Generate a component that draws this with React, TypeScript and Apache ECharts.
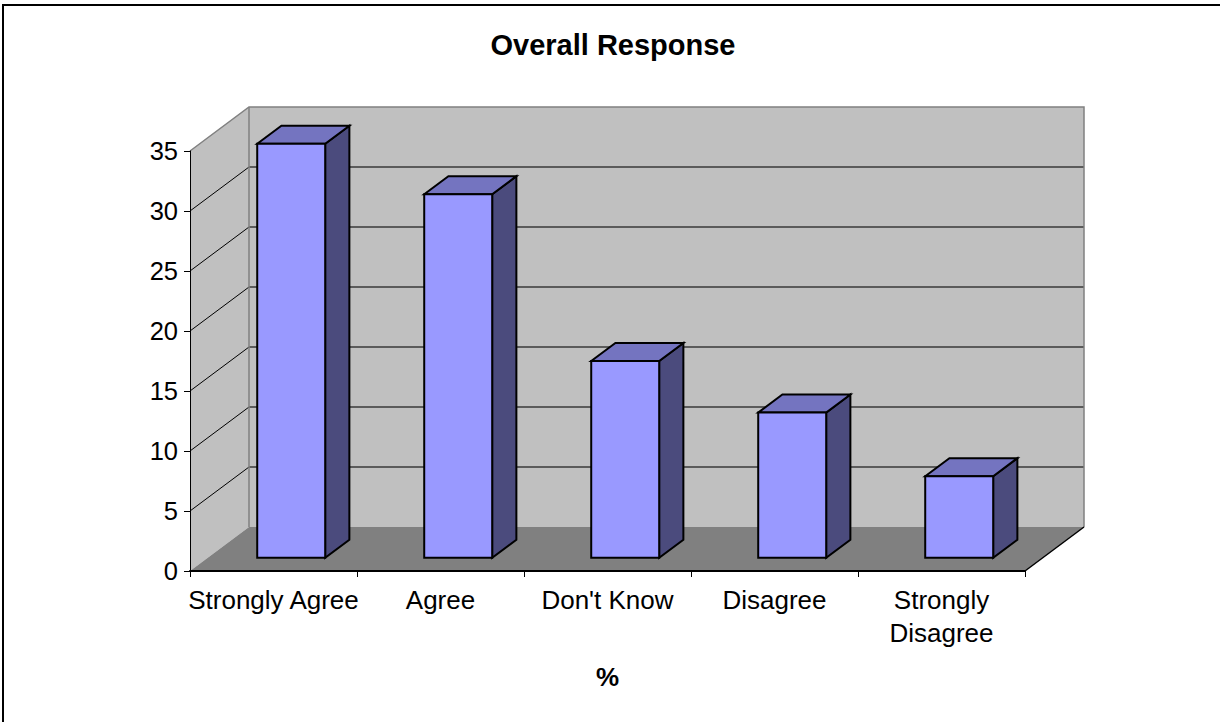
import { useEffect, useRef } from 'react';
import * as echarts from 'echarts';

// Survey answers and their share of responses (%)
const categories = ['Strongly Agree', 'Agree', "Don't Know", 'Disagree', 'Strongly\nDisagree'];
const responses = [34.5, 30.3, 16.4, 12.1, 6.8];
const valueTicks = [0, 5, 10, 15, 20, 25, 30, 35];
const chartTitle = 'Overall Response';
const axisTitle = '%';

const Y_MIN = 0;
const Y_MAX = 35;
const Y_STEP = 5;

// Pseudo-3D projection: offset (px) from the front plane to the back wall
const DEPTH_X = 59;
const DEPTH_Y = 44;
// Bar placement inside the depth (fractions of full depth) and band width
const BAR_FRONT = 0.3;
const BAR_BACK = 0.71;
const BAR_WIDTH = 0.407;

const FONT = '"Liberation Sans", Arial, Helvetica, sans-serif';

const WALL = '#c0c0c0';
const FLOOR = '#808080';
const EDGE = '#808080';
const BAR_FACE = '#9999ff';
const BAR_TOP = '#7474c0';
const BAR_SIDE = '#4b4b7d';

function renderWalls(_params: any, api: any) {
  const n = categories.length;
  const bw = api.size([1, 0])[0];
  const [c0, yBase] = api.coord([0, Y_MIN]);
  const xL = c0 - bw / 2;
  const xR = api.coord([n - 1, Y_MIN])[0] + bw / 2;
  const yTop = api.coord([0, Y_MAX])[1];
  const dx = DEPTH_X;
  const dy = DEPTH_Y;

  const children: any[] = [
    {
      type: 'polygon',
      shape: { points: [[xL, yBase], [xL + dx, yBase - dy], [xL + dx, yTop - dy], [xL, yTop]] },
      style: { fill: WALL },
    },
    {
      type: 'rect',
      shape: { x: xL + dx, y: yTop - dy, width: xR - xL, height: yBase - yTop },
      style: { fill: WALL },
    },
    {
      type: 'polygon',
      shape: { points: [[xL, yBase], [xR, yBase], [xR + dx, yBase - dy], [xL + dx, yBase - dy]] },
      style: { fill: FLOOR },
    },
  ];

  valueTicks.forEach((v) => {
    if (v <= Y_MIN || v >= Y_MAX) return;
    const y = api.coord([0, v])[1];
    children.push({
      type: 'line',
      shape: { x1: xL + dx, y1: y - dy, x2: xR + dx, y2: y - dy },
      style: { stroke: '#3a3a3a', lineWidth: 1.5 },
    });
    children.push({
      type: 'line',
      shape: { x1: xL, y1: y, x2: xL + dx, y2: y - dy },
      style: { stroke: '#000', lineWidth: 1 },
    });
  });

  children.push({
    type: 'polyline',
    shape: { points: [[xL, yTop], [xL + dx, yTop - dy], [xR + dx, yTop - dy], [xR + dx, yBase - dy]] },
    style: { stroke: EDGE, lineWidth: 1.5, fill: null },
  });
  children.push({
    type: 'line',
    shape: { x1: xL + dx, y1: yTop - dy, x2: xL + dx, y2: yBase - dy },
    style: { stroke: EDGE, lineWidth: 1.5 },
  });
  children.push({
    type: 'line',
    shape: { x1: xR, y1: yBase, x2: xR + dx, y2: yBase - dy },
    style: { stroke: '#000', lineWidth: 1.5 },
  });

  return { type: 'group', children };
}

function renderBar(_params: any, api: any) {
  const i = api.value(0);
  const v = api.value(1);
  const [cx, y0] = api.coord([i, Y_MIN]);
  const yv = api.coord([i, v])[1];
  const bw = api.size([1, 0])[0];
  const w = bw * BAR_WIDTH;
  const fx = cx + BAR_FRONT * DEPTH_X - w / 2;
  const fBottom = y0 - BAR_FRONT * DEPTH_Y;
  const fTop = yv - BAR_FRONT * DEPTH_Y;
  const ddx = (BAR_BACK - BAR_FRONT) * DEPTH_X;
  const ddy = (BAR_BACK - BAR_FRONT) * DEPTH_Y;
  const line = { stroke: '#000', lineWidth: 2, lineJoin: 'miter' as const };

  return {
    type: 'group',
    children: [
      {
        type: 'polygon',
        shape: {
          points: [
            [fx + w, fTop],
            [fx + w + ddx, fTop - ddy],
            [fx + w + ddx, fBottom - ddy],
            [fx + w, fBottom],
          ],
        },
        style: { fill: BAR_SIDE, ...line },
      },
      {
        type: 'polygon',
        shape: {
          points: [
            [fx, fTop],
            [fx + ddx, fTop - ddy],
            [fx + w + ddx, fTop - ddy],
            [fx + w, fTop],
          ],
        },
        style: { fill: BAR_TOP, ...line },
      },
      {
        type: 'rect',
        shape: { x: fx, y: fTop, width: w, height: fBottom - fTop },
        style: { fill: BAR_FACE, ...line },
      },
    ],
  };
}

export default function App() {
  const ref = useRef<HTMLDivElement>(null);

  useEffect(() => {
    if (!ref.current) return;
    const chart = echarts.init(ref.current, undefined, { renderer: 'svg' });
    chart.setOption({
      animation: false,
      backgroundColor: '#ffffff',
      title: {
        text: chartTitle,
        left: 613,
        top: 30,
        padding: 0,
        textAlign: 'center',
        textStyle: { fontFamily: FONT, fontSize: 29, fontWeight: 'bold', color: '#000', lineHeight: 29 },
      },
      graphic: [
        {
          type: 'rect',
          silent: true,
          shape: { x: 3, y: 5, width: 1400, height: 900 },
          style: { fill: 'none', stroke: '#000', lineWidth: 2 },
          z: 10,
        },
      ],
      grid: { left: 190, right: 195, top: 151, bottom: 151 },
      xAxis: {
        type: 'category',
        data: categories,
        z: 5,
        boundaryGap: true,
        name: axisTitle,
        nameLocation: 'middle',
        nameGap: 93,
        nameTextStyle: { fontFamily: FONT, fontSize: 26, fontWeight: 'bold', color: '#000', lineHeight: 26 },
        axisLine: { show: true, lineStyle: { color: '#000', width: 2 } },
        axisTick: { show: true, length: 6, lineStyle: { color: '#000', width: 1 } },
        axisLabel: {
          interval: 0,
          margin: 12,
          fontFamily: FONT,
          fontSize: 26,
          lineHeight: 33,
          color: '#000',
        },
        splitLine: { show: false },
      },
      yAxis: {
        type: 'value',
        min: Y_MIN,
        max: Y_MAX,
        interval: Y_STEP,
        z: 5,
        axisLine: { show: true, lineStyle: { color: '#000', width: 1 } },
        axisTick: { show: true, length: 6, lineStyle: { color: '#000', width: 1 } },
        axisLabel: { margin: 12, fontFamily: FONT, fontSize: 25.5, color: '#000' },
        splitLine: { show: false },
      },
      series: [
        {
          type: 'custom',
          name: 'walls',
          z: 1,
          silent: true,
          renderItem: renderWalls,
          data: [[0, 0]],
        },
        {
          type: 'custom',
          name: axisTitle,
          z: 2,
          renderItem: renderBar,
          encode: { x: 0, y: 1 },
          data: responses.map((v, i) => [i, v]),
        },
      ],
    });
    return () => chart.dispose();
  }, []);

  return (
    <div
      ref={ref}
      style={{ position: 'absolute', left: 0, top: 0, width: 1220, height: 722 }}
    />
  );
}
